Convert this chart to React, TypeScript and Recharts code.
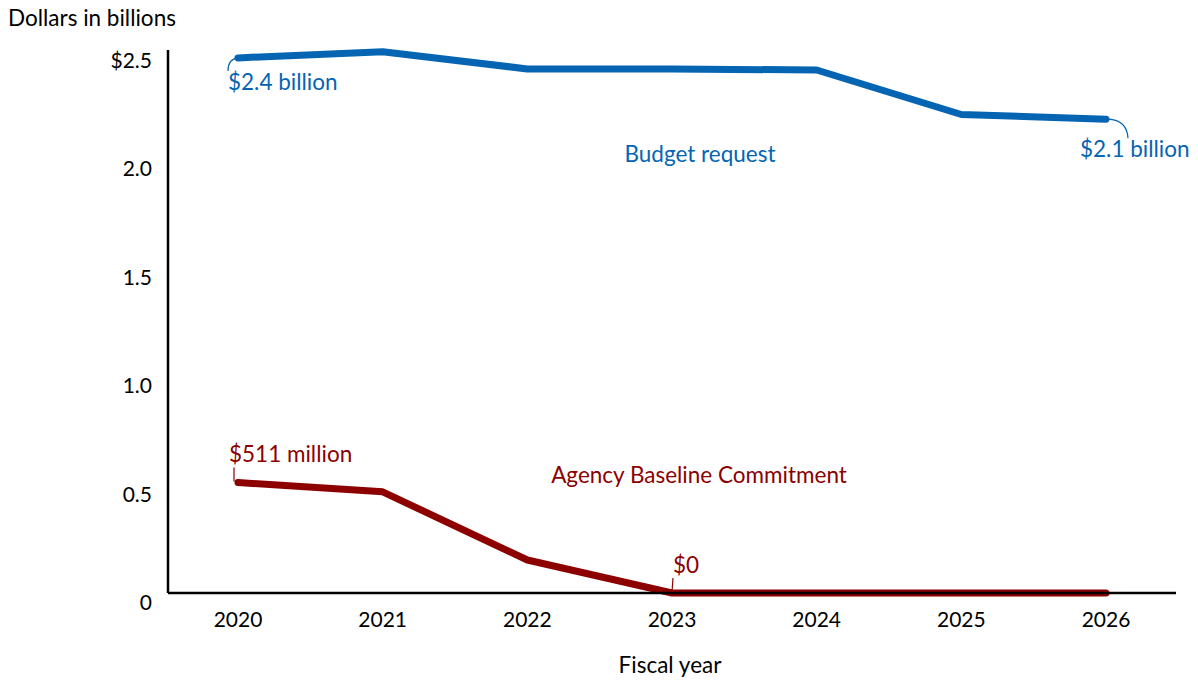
import { LineChart, Line, XAxis, YAxis } from "recharts";

const years = ["2020", "2021", "2022", "2023", "2024", "2025", "2026"];
const budgetRequest = [2.513, 2.542, 2.461, 2.461, 2.456, 2.247, 2.225];
const baselineCommitment = [0.519, 0.475, 0.155, 0, 0, 0, 0];
const yTicks = [0, 0.5, 1.0, 1.5, 2.0, 2.5];

const BLUE = "#0565b2";
const RED = "#8c0000";
const FONT = "Lato, 'Open Sans', sans-serif";
const LABEL_SIZE = 22.5;

const data = years.map((year, i) => ({
  year,
  budget: budgetRequest[i],
  baseline: baselineCommitment[i],
}));

function YTick({ x, y, payload }: any) {
  const v = payload.value as number;
  const label = v === 2.5 ? "$2.5" : v === 0 ? "0" : v.toFixed(1);
  // the source labels drift a bit lower than the gridline toward the bottom
  const drift = (2.5 - v) * 4;
  return (
    <text x={x - 8} y={y + drift} dy="0.35em" textAnchor="end" fontSize={21} fill="#000" fontFamily={FONT}>
      {label}
    </text>
  );
}

function XTick({ x, y, payload }: any) {
  return (
    <text x={x} y={y + 26} textAnchor="middle" fontSize={21} fill="#000" fontFamily={FONT}>
      {payload.value}
    </text>
  );
}

function budgetLabel({ x, y, index }: any) {
  if (index === 0) {
    return (
      <g key="b0">
        <path d={`M${x},${y} Q${x - 10},${y + 1} ${x - 10},${y + 13}`} fill="none" stroke={BLUE} strokeWidth={1.2} />
        <text x={x - 10} y={y + 32} fontSize={LABEL_SIZE} fill={BLUE} fontFamily={FONT}>
          $2.4 billion
        </text>
      </g>
    );
  }
  if (index === years.length - 1) {
    return (
      <g key="b6">
        <path d={`M${x + 2},${y} Q${x + 21},${y + 1} ${x + 22},${y + 19}`} fill="none" stroke={BLUE} strokeWidth={1.2} />
        <text x={x - 26} y={y + 38} fontSize={LABEL_SIZE} fill={BLUE} fontFamily={FONT}>
          $2.1 billion
        </text>
      </g>
    );
  }
  return <g key={`b${index}`} />;
}

function baselineLabel({ x, y, index }: any) {
  if (index === 0) {
    return (
      <g key="r0">
        <line x1={x - 4} y1={y - 15} x2={x - 4} y2={y - 1} stroke={RED} strokeWidth={1.2} />
        <text x={x - 9} y={y - 20} fontSize={LABEL_SIZE} fill={RED} fontFamily={FONT}>
          $511 million
        </text>
      </g>
    );
  }
  if (index === 3) {
    return (
      <g key="r3">
        <line x1={x + 1} y1={y - 15} x2={x} y2={y - 1} stroke={RED} strokeWidth={1.2} />
        <text x={x + 1} y={y - 20} fontSize={LABEL_SIZE} fill={RED} fontFamily={FONT}>
          $0
        </text>
      </g>
    );
  }
  return <g key={`r${index}`} />;
}

export default function App() {
  return (
    <div style={{ position: "absolute", left: 0, top: 0, background: "#fff" }}>
      <LineChart width={1198} height={682} data={data} margin={{ top: 50, right: 22, left: 0, bottom: 59 }}>
        <XAxis
          dataKey="year"
          padding={{ left: 70, right: 70 }}
          axisLine={{ stroke: "#000", strokeWidth: 2.5 }}
          tickLine={false}
          tick={<XTick />}
          height={30}
          interval={0}
        />
        <YAxis
          domain={[0, 2.55]}
          ticks={yTicks}
          width={168}
          axisLine={{ stroke: "#000", strokeWidth: 2.5 }}
          tickLine={false}
          tick={<YTick />}
        />
        <Line
          type="linear"
          dataKey="budget"
          stroke={BLUE}
          strokeWidth={7}
          strokeLinecap="round"
          strokeLinejoin="round"
          dot={false}
          activeDot={false}
          label={budgetLabel}
          isAnimationActive={false}
        />
        <Line
          type="linear"
          dataKey="baseline"
          stroke={RED}
          strokeWidth={7}
          strokeLinecap="round"
          strokeLinejoin="round"
          dot={false}
          activeDot={false}
          label={baselineLabel}
          isAnimationActive={false}
        />
        <text x={8} y={26} fontSize={LABEL_SIZE} fill="#000" fontFamily={FONT}>
          Dollars in billions
        </text>
        <text x={700} y={162} textAnchor="middle" fontSize={LABEL_SIZE} fill={BLUE} fontFamily={FONT}>
          Budget request
        </text>
        <text x={699} y={483} textAnchor="middle" fontSize={LABEL_SIZE} fill={RED} fontFamily={FONT}>
          Agency Baseline Commitment
        </text>
        <text x={670} y={673} textAnchor="middle" fontSize={LABEL_SIZE} fill="#000" fontFamily={FONT}>
          Fiscal year
        </text>
      </LineChart>
    </div>
  );
}
